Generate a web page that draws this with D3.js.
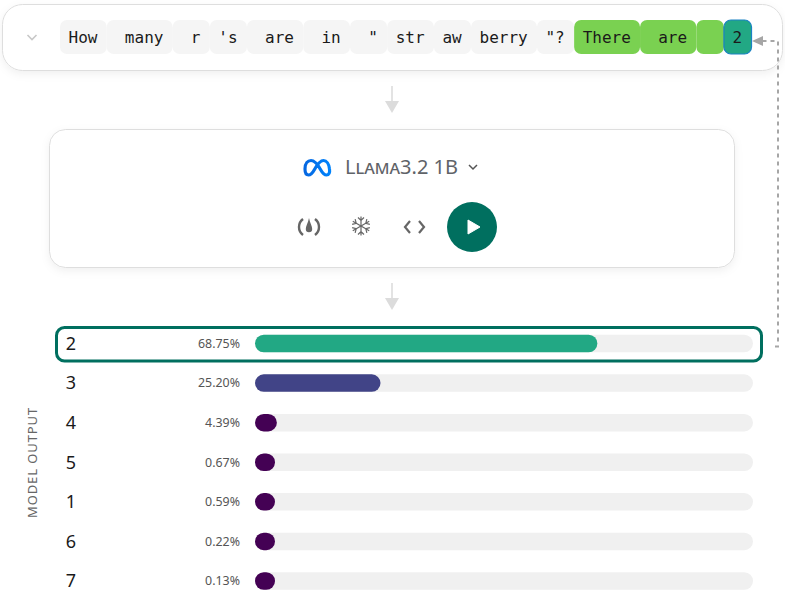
<!DOCTYPE html>
<html>
<head>
<meta charset="utf-8">
<script src="https://cdn.jsdelivr.net/npm/d3@7"></script>
<style>
  html, body { margin: 0; padding: 0; background: #fff; overflow: hidden; }
  text { font-family: "Noto Sans", sans-serif; }
  .tok { font-family: "DejaVu Sans Mono", monospace; font-size: 16px; fill: #1a1a1a; white-space: pre; }
</style>
</head>
<body>
<div id="chart"></div>
<script>
// prompt tokens (leading spaces are part of the token)
var tokens = ["How", " many", " r", "'s", " are", " in", " \"", "str", "aw", "berry", "\"?", "There", " are", " ", "2"];
var tokenKinds = ["p", "p", "p", "p", "p", "p", "p", "p", "p", "p", "p", "g", "g", "g", "n"];

// model output
var outputs = ["2", "3", "4", "5", "1", "6", "7"];
var probs = [68.75, 25.20, 4.39, 0.67, 0.59, 0.22, 0.13];
var ticks = ["68.75%", "25.20%", "4.39%", "0.67%", "0.59%", "0.22%", "0.13%"];

var width = 785, height = 606;
var green = "#006f5f";

var svg = d3.select("#chart").append("svg")
  .attr("width", width)
  .attr("height", height)
  .style("display", "block");

var defs = svg.append("defs");
var shadow = defs.append("filter").attr("id", "shadow")
  .attr("x", "-5%").attr("y", "-20%").attr("width", "110%").attr("height", "150%");
shadow.append("feDropShadow")
  .attr("dx", 0).attr("dy", 3).attr("stdDeviation", 4)
  .attr("flood-color", "#000").attr("flood-opacity", 0.06);

// cards
svg.append("rect")
  .attr("x", 2.5).attr("y", 4.5).attr("width", 780).attr("height", 66).attr("rx", 20)
  .attr("fill", "#fff").attr("stroke", "#dedede").attr("filter", "url(#shadow)");
svg.append("rect")
  .attr("x", 49.5).attr("y", 129.5).attr("width", 685).attr("height", 138).attr("rx", 16)
  .attr("fill", "#fff").attr("stroke", "#dedede").attr("filter", "url(#shadow)");

// collapse chevron
svg.append("path")
  .attr("d", "M27.5 35 L32 39.5 L36.5 35")
  .attr("fill", "none").attr("stroke", "#c8c8c8").attr("stroke-width", 1.6);

// tokens
var charW = 9.58, tokPad = 18;
var tokenX = [];
tokens.reduce(function(acc, t) { tokenX.push(acc); return acc + t.length * charW + tokPad; }, 60);

var viridis5 = ["#440154", "#414487", "#2a788e", "#22a884", "#7ad151"];
var color = d3.scaleQuantize().domain([0, 100]).range(viridis5);
var tokenFill = { p: "#f5f5f5", g: viridis5[4], n: viridis5[3] };

var tok = svg.append("g").selectAll("g")
  .data(tokens)
  .join("g")
    .attr("transform", function(d, i) { return `translate(${tokenX[i]},20)`; });
tok.append("rect")
  .attr("width", function(d) { return d.length * charW + tokPad; })
  .attr("height", 34)
  .attr("rx", 7)
  .attr("fill", function(d, i) { return tokenFill[tokenKinds[i]]; })
  .attr("stroke", function(d, i) { return tokenKinds[i] == "n" ? "#1a82c4" : "none"; })
  .attr("stroke-width", 1.2);
tok.append("text")
  .attr("class", "tok")
  .attr("x", tokPad / 2 - 0.5)
  .attr("y", 23)
  .attr("xml:space", "preserve")
  .text(function(d) { return d; });

// down arrows between the cards
[[86, 108], [283, 305]].forEach(function(a) {
  svg.append("line")
    .attr("x1", 392).attr("x2", 392).attr("y1", a[0]).attr("y2", a[1] - 6)
    .attr("stroke", "#dcdcdc").attr("stroke-width", 1.6);
  svg.append("path")
    .attr("d", `M385 ${a[1] - 7} L399 ${a[1] - 7} L392 ${a[1] + 6 - 1} Z`)
    .attr("fill", "#dcdcdc");
});

// model selector
var meta = defs.append("linearGradient").attr("id", "meta").attr("x1", 0).attr("x2", 1);
meta.append("stop").attr("offset", "0%").attr("stop-color", "#0668e1");
meta.append("stop").attr("offset", "100%").attr("stop-color", "#0082fb");
svg.append("path")
  .attr("d", "M305 169 C305 163 308 160.5 311 160.5 C315 160.5 318 165 320.5 169.5 C323 174 325 175 326.5 175 C329 175 330 172.5 329.5 169 C329 164 326.5 160.5 323.5 160.5 C320 160.5 317 165 314.5 169.5 C312 174 310 175 308.5 175 C306 175 305 172.5 305 169 Z")
  .attr("fill", "none").attr("stroke", "url(#meta)").attr("stroke-width", 3.2);
svg.append("text")
  .attr("x", 345).attr("y", 174)
  .attr("font-size", 20)
  .style("font-variant", "small-caps")
  .attr("fill", "#5f6368")
  .text("Llama3.2 1B");
svg.append("path")
  .attr("d", "M469 165 L473 169 L477 165")
  .attr("fill", "none").attr("stroke", "#555").attr("stroke-width", 1.5);

// toolbar icons
var gauge = svg.append("g").attr("transform", "translate(309,227)")
  .attr("fill", "none").attr("stroke", "#666").attr("stroke-width", 2.4);
gauge.append("path").attr("d", "M-6 8 A10 10 0 0 1 -6 -8");
gauge.append("path").attr("d", "M6 8 A10 10 0 0 0 6 -8");
gauge.append("path").attr("d", "M0 -9 C1 -4 3.2 -1 3.2 2 A3.2 3.2 0 0 1 -3.2 2 C-3.2 -1 -1 -4 0 -9 Z")
  .attr("fill", "#666").attr("stroke", "none");

var flake = svg.append("g").attr("transform", "translate(361,226)")
  .attr("stroke", "#666").attr("stroke-width", 1.2).attr("fill", "none");
d3.range(6).forEach(function(i) {
  flake.append("path")
    .attr("transform", `rotate(${i * 60})`)
    .attr("d", "M0 0 V-9.5 M-3 -8.5 L0 -5.5 L3 -8.5");
});

svg.append("path")
  .attr("d", "M410 221 L405 227 L410 233 M419 221 L424 227 L419 233")
  .attr("fill", "none").attr("stroke", "#666").attr("stroke-width", 2.2);

svg.append("circle")
  .attr("cx", 472).attr("cy", 227).attr("r", 25).attr("fill", green);
svg.append("path")
  .attr("d", "M468 220 L480 227 L468 234 Z")
  .attr("fill", "#fff").attr("stroke", "#fff").attr("stroke-linejoin", "round");

// bars
var x = d3.scaleLinear().domain([0, 100]).range([255, 753]);
var y = d3.scalePoint().domain(outputs).range([343.5, 581]);
var barH = 17.5, minW = 20;

svg.append("g").selectAll("rect")
  .data(outputs)
  .join("rect")
    .attr("x", x(0))
    .attr("y", function(d) { return y(d) - barH / 2; })
    .attr("width", x(100) - x(0))
    .attr("height", barH)
    .attr("rx", 8.75)
    .attr("fill", "#f0f0f0");

svg.append("g").selectAll("rect")
  .data(probs)
  .join("rect")
    .attr("x", x(0))
    .attr("y", function(d, i) { return y(outputs[i]) - barH / 2; })
    .attr("width", function(d) { return Math.max(x(d) - x(0), minW); })
    .attr("height", barH)
    .attr("rx", 8.75)
    .attr("fill", function(d) { return color(d); });

// output labels
var axis = svg.append("g")
  .attr("transform", "translate(76,0)")
  .call(d3.axisLeft(y).tickSize(0).tickPadding(0));
axis.select(".domain").remove();
axis.selectAll("text")
  .style("font-family", '"Noto Sans", sans-serif')
  .attr("font-size", 18)
  .attr("fill", "#1a1a1a");

svg.append("g").selectAll("text")
  .data(ticks)
  .join("text")
    .attr("x", 240)
    .attr("y", function(d, i) { return y(outputs[i]); })
    .attr("dy", "0.35em")
    .attr("text-anchor", "end")
    .attr("font-size", 12.4)
    .attr("fill", "#555")
    .text(function(d) { return d; });

svg.append("text")
  .attr("transform", "translate(37,462.5) rotate(-90)")
  .attr("text-anchor", "middle")
  .attr("font-size", 13)
  .attr("letter-spacing", 0.9)
  .attr("fill", "#666")
  .text("MODEL OUTPUT");

// highlight of the top output + feedback arrow
svg.append("rect")
  .attr("x", 56.5).attr("y", 327.5).attr("width", 705).attr("height", 33.5).attr("rx", 8)
  .attr("fill", "none").attr("stroke", green).attr("stroke-width", 3);

svg.append("path")
  .attr("d", "M775 346.5 H778 V41 H760")
  .attr("fill", "none").attr("stroke", "#a6a6a6").attr("stroke-width", 2)
  .attr("stroke-dasharray", "4 4");
svg.append("path")
  .attr("d", "M752 41 L763 36 L763 46 Z")
  .attr("fill", "#a6a6a6");
</script>
</body>
</html>
